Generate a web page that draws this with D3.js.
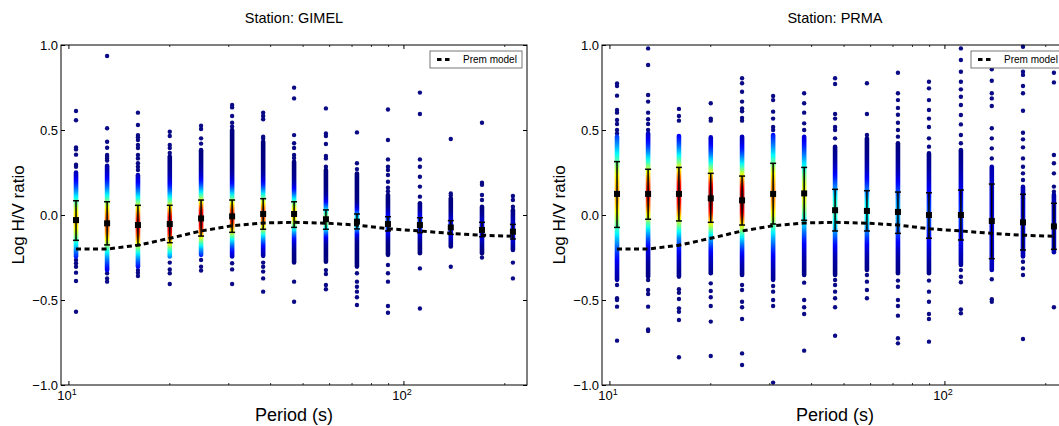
<!DOCTYPE html>
<html>
<head>
<meta charset="UTF-8">
<script src="https://d3js.org/d3.v7.min.js"></script>
<style>
  body { margin: 0; background: #fff; }
  svg text { font-family: "Liberation Sans", Arial, sans-serif; fill: #000; }
</style>
</head>
<body>
<svg></svg>

<script>
// column periods (s), shared by both stations
const periods = [10.5, 13, 16.07, 20, 24.8, 30.7, 38, 47, 58.5, 72.4, 89.6, 111.6, 138, 171, 211.5];
// prem model log H/V
const premModel = [-0.2, -0.2, -0.178, -0.137, -0.094, -0.063, -0.047, -0.043, -0.048, -0.059, -0.081, -0.094, -0.108, -0.119, -0.125];

// GIMEL: mean, error bar ends, dense core extent, colour peak (density), single dots
const gimelMean = [-0.03, -0.049, -0.059, -0.053, -0.02, -0.008, 0.006, 0.006, -0.025, -0.039, -0.053, -0.059, -0.073, -0.088, -0.098];
const gimelLow = [-0.149, -0.176, -0.176, -0.163, -0.124, -0.102, -0.084, -0.073, -0.084, -0.082, -0.094, -0.104, -0.114, -0.128, -0.141];
const gimelHigh = [0.084, 0.078, 0.057, 0.057, 0.088, 0.088, 0.096, 0.078, 0.03, 0.006, -0.01, -0.016, -0.033, -0.043, -0.055];
const gimelCore = [[-0.245, 0.25], [-0.324, 0.29], [-0.304, 0.235], [-0.245, 0.345], [-0.235, 0.382], [-0.245, 0.5], [-0.241, 0.431], [-0.28, 0.314], [-0.275, 0.265], [-0.304, 0.245], [-0.235, 0.118], [-0.225, 0.069], [-0.186, 0.098], [-0.225, 0.049], [-0.206, 0.029]];
const gimelPeak = [0.66, 0.78, 0.86, 0.93, 0.93, 0.85, 0.8, 0.66, 0.52, 0.4, 0.22, 0.18, 0.16, 0.14, 0.13];
const gimelDots = [
  [0.612, 0.557, 0.397, 0.386, 0.355, 0.296, 0.284, -0.265, -0.284, -0.304, -0.339, -0.388, -0.569],
  [0.935, 0.51, 0.431, 0.396, 0.353, 0.343, 0.333, 0.32, -0.343, -0.373, -0.392],
  [0.602, 0.529, 0.47, 0.457, 0.441, 0.412, 0.394, 0.353, 0.333, 0.304, 0.284, 0.265, -0.324, -0.339, -0.359],
  [0.49, 0.465, 0.412, 0.394, 0.365, -0.28, -0.32, -0.343, -0.406],
  [0.525, 0.506, 0.451, 0.42, -0.265, -0.304, -0.327],
  [0.647, 0.633, 0.582, 0.543, 0.52, -0.284, -0.32, -0.406],
  [0.602, 0.582, 0.563, 0.461, 0.45, -0.28, -0.304, -0.333, -0.373, -0.451],
  [0.749, 0.686, 0.47, 0.422, 0.394, 0.353, 0.335, -0.392, -0.51],
  [0.627, 0.48, 0.465, 0.418, 0.347, 0.333, 0.284, -0.324, -0.347, -0.412, -0.437],
  [0.486, 0.304, 0.27, -0.343, -0.392, -0.422, -0.451, -0.484, -0.529],
  [0.621, 0.441, 0.327, 0.284, 0.265, 0.235, 0.196, 0.16, 0.14, -0.294, -0.343, -0.392, -0.535, -0.575],
  [0.72, 0.594, 0.327, 0.284, 0.225, 0.167, 0.108, -0.314, -0.55],
  [0.447, 0.127, 0.115, -0.304],
  [0.543, 0.19, 0.178, 0.118, 0.088, -0.25],
  [0.112, 0.088, 0.049, -0.28, -0.373]
];

// PRMA
const prmaMean = [0.124, 0.124, 0.124, 0.098, 0.086, 0.124, 0.127, 0.028, 0.024, 0.018, 0.0, 0.0, -0.035, -0.043, -0.067];
const prmaLow = [-0.073, -0.025, -0.035, -0.043, -0.059, -0.053, -0.031, -0.094, -0.094, -0.108, -0.137, -0.147, -0.257, -0.206, -0.202];
const prmaHigh = [0.314, 0.269, 0.28, 0.245, 0.229, 0.304, 0.28, 0.151, 0.143, 0.135, 0.131, 0.147, 0.182, 0.122, 0.069];
const prmaCore = [[-0.382, 0.461], [-0.363, 0.48], [-0.363, 0.465], [-0.343, 0.457], [-0.353, 0.461], [-0.382, 0.471], [-0.353, 0.461], [-0.353, 0.402], [-0.324, 0.451], [-0.343, 0.422], [-0.343, 0.363], [-0.294, 0.382], [-0.324, 0.284], [-0.245, 0.167], [-0.22, 0.12]];
const prmaPeak = [0.7, 0.85, 0.9, 0.97, 0.97, 0.74, 0.6, 0.43, 0.38, 0.3, 0.2, 0.17, 0.11, 0.09, 0.08];
const prmaDots = [
  [0.774, 0.759, 0.702, 0.618, 0.602, 0.559, 0.535, 0.5, 0.48, -0.412, -0.49, -0.5, -0.539, -0.739],
  [0.98, 0.882, 0.706, 0.667, 0.602, 0.563, 0.535, 0.5, -0.382, -0.441, -0.465, -0.539, -0.673, -0.682],
  [0.624, 0.582, 0.555, -0.437, -0.457, -0.494, -0.549, -0.569, -0.618, -0.837],
  [0.657, 0.567, 0.555, -0.402, -0.447, -0.484, -0.535, -0.627, -0.829],
  [0.804, 0.775, 0.725, 0.667, 0.627, 0.61, 0.571, 0.555, -0.412, -0.441, -0.51, -0.543, -0.612, -0.814, -0.882],
  [0.7, 0.676, 0.608, 0.567, 0.518, 0.5, -0.418, -0.451, -0.5, -0.535, -0.986],
  [0.716, 0.657, 0.602, 0.539, 0.5, -0.398, -0.5, -0.543, -0.582, -0.798],
  [0.804, 0.771, 0.594, 0.567, 0.518, 0.5, 0.451, -0.382, -0.412, -0.451, -0.49, -0.543, -0.71],
  [0.775, 0.594, 0.471, -0.353, -0.392, -0.441, -0.49],
  [0.837, 0.716, 0.676, 0.63, 0.59, 0.543, 0.5, 0.461, -0.386, -0.422, -0.5, -0.535, -0.592, -0.725, -0.755],
  [0.784, 0.745, 0.676, 0.618, 0.567, 0.518, 0.451, 0.402, -0.386, -0.451, -0.51, -0.582, -0.612, -0.745],
  [0.98, 0.912, 0.843, 0.784, 0.739, 0.696, 0.647, 0.588, 0.533, 0.471, 0.422, -0.324, -0.363, -0.396, -0.555, -0.578],
  [0.857, 0.79, 0.716, 0.686, 0.641, 0.51, 0.451, 0.392, 0.333, -0.378, -0.496, -0.51],
  [0.99, 0.843, 0.824, 0.759, 0.716, 0.613, 0.484, 0.445, 0.398, 0.333, 0.284, 0.245, 0.206, -0.275, -0.314, -0.353, -0.729],
  [0.837, 0.78, 0.353, 0.304, 0.245, 0.167, 0.137, -0.543]
];

const yTicks = [-1, -0.5, 0, 0.5, 1];
const xMajor = [10, 100];
const xMinor = [20, 30, 40, 50, 60, 70, 80, 90, 200];

let width = 1059, height = 426;
let svg = d3.select("svg").attr("width", width).attr("height", height);
let defs = svg.append("defs");

// matplotlib "jet"
const jet = d3.scaleLinear()
  .domain([0, 0.125, 0.375, 0.625, 0.875, 1])
  .range(["#00007f", "#0000ff", "#00ffff", "#ffff00", "#ff0000", "#7f0000"])
  .clamp(true);

const pw = 466, ph = 340;

function drawPanel(left, id, title, mean, low, high, core, peak, dots) {
  let g = svg.append("g").attr("transform", `translate(${left},45)`);
  let x = d3.scaleLog().domain([9.47, 233]).range([0, pw]);
  let y = d3.scaleLinear().domain([-1, 1]).range([ph, 0]);

  // single scattered points
  periods.forEach((p, i) => {
    g.append("g").selectAll("circle")
      .data(dots[i])
      .join("circle")
      .attr("cx", x(p))
      .attr("cy", d => y(d))
      .attr("r", 2.2)
      .attr("fill", "#0a0a86");
  });

  // dense cores, coloured by density
  periods.forEach((p, i) => {
    let gid = id + "-g" + i;
    let lo = core[i][0], hi = core[i][1];
    let s = (high[i] - low[i]) / 2 * 1.05;
    let grad = defs.append("linearGradient").attr("id", gid)
      .attr("x1", 0).attr("y1", 0).attr("x2", 0).attr("y2", 1);
    d3.range(41).forEach(k => {
      let v = hi - (hi - lo) * k / 40;
      let dd = (v - mean[i]) / s;
      grad.append("stop")
        .attr("offset", k / 40)
        .attr("stop-color", jet(peak[i] * Math.exp(-0.5 * dd * dd)));
    });
    g.append("rect")
      .attr("x", x(p) - 2.3)
      .attr("y", y(hi) - 2.2)
      .attr("width", 4.6)
      .attr("height", y(lo) - y(hi) + 4.4)
      .attr("rx", 2.3)
      .attr("fill", `url(#${gid})`);
  });

  // error bars + mean
  let eb = g.append("g").attr("stroke", "#000").attr("stroke-width", 1.5);
  periods.forEach((p, i) => {
    let cx = x(p);
    eb.append("line").attr("x1", cx).attr("x2", cx).attr("y1", y(low[i])).attr("y2", y(high[i]));
    eb.append("line").attr("x1", cx - 3).attr("x2", cx + 3).attr("y1", y(low[i])).attr("y2", y(low[i]));
    eb.append("line").attr("x1", cx - 3).attr("x2", cx + 3).attr("y1", y(high[i])).attr("y2", y(high[i]));
  });
  g.append("g").selectAll("rect")
    .data(periods)
    .join("rect")
    .attr("x", d => x(d) - 3)
    .attr("y", (d, i) => y(mean[i]) - 3)
    .attr("width", 6).attr("height", 6)
    .attr("fill", "#000");

  // prem model
  let line = d3.line().x((d, i) => x(periods[i])).y(d => y(d));
  g.append("path")
    .datum(premModel)
    .attr("d", line)
    .attr("fill", "none")
    .attr("stroke", "#000")
    .attr("stroke-width", 3)
    .attr("stroke-dasharray", "5,3.5");

  // legend
  let lg = g.append("g").attr("transform", `translate(${pw - 97},6)`);
  lg.append("rect").attr("x", 0).attr("y", 0).attr("width", 92).attr("height", 17)
    .attr("fill", "#fff").attr("stroke", "#555").attr("stroke-width", 0.8);
  lg.append("line").attr("x1", 7).attr("x2", 21).attr("y1", 8.5).attr("y2", 8.5)
    .attr("stroke", "#000").attr("stroke-width", 3).attr("stroke-dasharray", "4.5,3.5");
  lg.append("text").attr("x", 33).attr("y", 8.5).attr("dy", "0.35em")
    .style("font-size", "10px").text("Prem model");

  // frame
  g.append("rect").attr("width", pw).attr("height", ph)
    .attr("fill", "none").attr("stroke", "#000").attr("stroke-width", 1);

  // y axes, ticks pointing inward
  let ya = d3.axisLeft(y).tickValues(yTicks).tickSize(-4).tickPadding(3)
    .tickFormat(d3.format(".1f"));
  let yl = g.append("g").call(ya);
  yl.select(".domain").remove();
  yl.selectAll("text").style("font-size", "13px").style("font-family", "Liberation Sans, Arial, sans-serif");
  let yr = g.append("g").attr("transform", `translate(${pw},0)`)
    .call(d3.axisRight(y).tickValues(yTicks).tickSize(-4).tickFormat(""));
  yr.select(".domain").remove();

  // x ticks (log), bottom and top
  [0, ph].forEach(y0 => {
    let dir = y0 === 0 ? 1 : -1;
    g.append("g").selectAll("line").data(xMajor).join("line")
      .attr("x1", d => x(d)).attr("x2", d => x(d))
      .attr("y1", y0).attr("y2", y0 + dir * 4)
      .attr("stroke", "#000");
    g.append("g").selectAll("line").data(xMinor).join("line")
      .attr("x1", d => x(d)).attr("x2", d => x(d))
      .attr("y1", y0).attr("y2", y0 + dir * 2)
      .attr("stroke", "#000").attr("stroke-width", 0.8);
  });
  let xl = g.append("g").selectAll("text").data(xMajor).join("text")
    .attr("x", d => x(d) - 2)
    .attr("y", ph + 15)
    .attr("text-anchor", "middle")
    .style("font-size", "13px");
  xl.append("tspan").text("10");
  xl.append("tspan").attr("dy", -5).style("font-size", "9px").text(d => Math.round(Math.log10(d)));

  // labels
  g.append("text").attr("x", pw / 2).attr("y", -22).attr("text-anchor", "middle")
    .style("font-size", "14.5px").text(title);
  g.append("text").attr("x", pw / 2).attr("y", ph + 36).attr("text-anchor", "middle")
    .style("font-size", "18px").text("Period (s)");
  g.append("text").attr("transform", `translate(-43,${ph / 2}) rotate(-90)`)
    .attr("text-anchor", "middle").attr("dy", "0.35em")
    .style("font-size", "17px").text("Log H/V ratio");
}

drawPanel(61, "gimel", "Station: GIMEL", gimelMean, gimelLow, gimelHigh, gimelCore, gimelPeak, gimelDots);
drawPanel(602, "prma", "Station: PRMA", prmaMean, prmaLow, prmaHigh, prmaCore, prmaPeak, prmaDots);
</script>
</body>
</html>
